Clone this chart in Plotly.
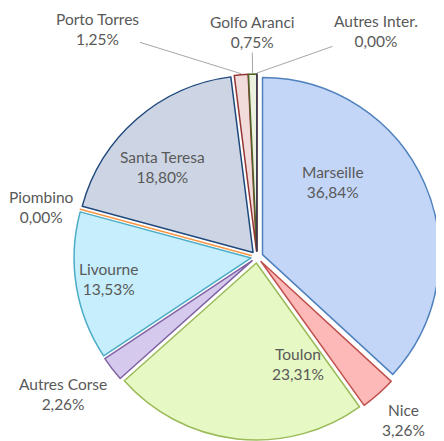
import math
import plotly.graph_objects as go

labels = ["Marseille", "Nice", "Toulon", "Autres Corse", "Livourne", "Piombino",
          "Santa Teresa", "Porto Torres", "Golfo Aranci", "Autres Inter."]
values = [36.84, 3.26, 23.31, 2.26, 13.53, 0.004, 18.80, 1.25, 0.75, 0.004]
shown_pct = ["36,84%", "3,26%", "23,31%", "2,26%", "13,53%", "0,00%",
             "18,80%", "1,25%", "0,75%", "0,00%"]

fills = ["#c3d6f8", "#fcb9b7", "#e6f8c4", "#d6c9ee", "#c6eefc", "#fbd5b5",
         "#cdd5e4", "#f2dcdb", "#ebf1de", "#d9d2e6"]
borders = ["#4f81bd", "#c0504d", "#9bbb59", "#8064a2", "#4bacc6", "#f79646",
           "#1f497d", "#943634", "#4f6228", "#3f3151"]

OFF = 8  # default page body margin
W, H = 444 - OFF, 441 - OFF
PULL = 0.034
CX, CY, HALF = 257 - OFF, 257 - OFF, 183  # pie centre / half-size (figure px)
dom_x = [(CX - HALF) / W, (CX + HALF) / W]
dom_y = [(H - CY - HALF) / H, (H - CY + HALF) / H]

fig = go.Figure(go.Pie(
    labels=labels, values=values, sort=False, direction="clockwise", rotation=0,
    pull=[PULL] * len(values), textinfo="none", hoverinfo="label+percent",
    marker=dict(colors=fills, line=dict(color=borders, width=1.5)),
    domain=dict(x=dom_x, y=dom_y), showlegend=False,
))

# label placement (page pixel centres of text blocks)
label_pos = {
    "Marseille": (333, 182), "Nice": (403, 420), "Toulon": (298, 364),
    "Autres Corse": (63, 394), "Livourne": (108, 279), "Piombino": (41, 207),
    "Santa Teresa": (162, 167), "Porto Torres": (97, 29),
    "Golfo Aranci": (252, 32), "Autres Inter.": (376, 31),
}
leader = {"Porto Torres", "Golfo Aranci", "Autres Inter."}
FONT = dict(family="Lato", size=15.5, color="#595959")

r = min((dom_x[1] - dom_x[0]) * W, (dom_y[1] - dom_y[0]) * H) / (2 + 2 * PULL)
total = sum(values)
cum = 0
annots = []
for lab, v, pct in zip(labels, values, shown_pct):
    mid = (cum + v / 2) / total * 2 * math.pi
    cum += v
    tx, ty = label_pos[lab]
    tx, ty = tx - OFF, ty - OFF
    txt = f"{lab}<br>{pct}"
    if lab in leader:
        rr = r * (1 + PULL) + 1
        px = CX + rr * math.sin(mid)
        py = CY - rr * math.cos(mid)
        annots.append(dict(x=px / W, y=1 - py / H, xref="paper", yref="paper",
                           ax=tx - px, ay=ty - py, text=txt, showarrow=True,
                           arrowhead=0, arrowwidth=1, arrowcolor="#a6a6a6",
                           xanchor="center", yanchor="middle", font=FONT))
    else:
        annots.append(dict(x=tx / W, y=1 - ty / H, xref="paper", yref="paper",
                           text=txt, showarrow=False, xanchor="center",
                           yanchor="middle", font=FONT))

fig.update_layout(width=W, height=H, margin=dict(l=0, r=0, t=0, b=0),
                  paper_bgcolor="white", plot_bgcolor="white", annotations=annots)
fig.write_html("out.html")
